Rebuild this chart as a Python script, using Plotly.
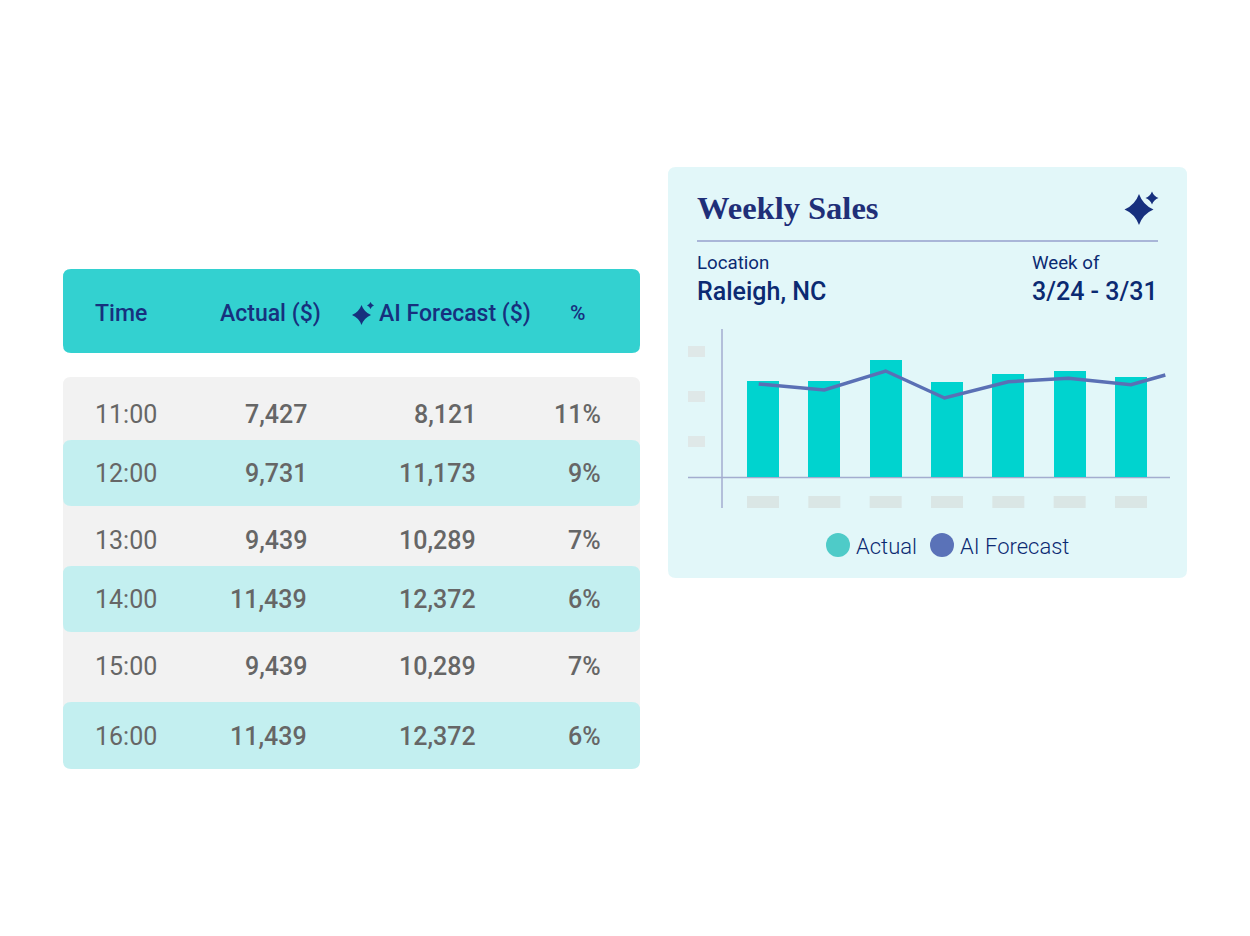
import plotly.graph_objects as go

times = ["11:00", "12:00", "13:00", "14:00", "15:00", "16:00"]
actual_table = ["7,427", "9,731", "9,439", "11,439", "9,439", "11,439"]
forecast_table = ["8,121", "11,173", "10,289", "12,372", "10,289", "12,372"]
pct_table = ["11%", "9%", "7%", "6%", "7%", "6%"]
row_y = [414, 473, 540, 599, 666, 736]

days = [0, 1, 2, 3, 4, 5, 6]
actual_bars = [96.5, 96.5, 116.7, 95.3, 103, 106, 100]
forecast_x = [-0.07, 1.0, 2.0, 2.96, 4.0, 4.98, 6.0, 6.56]
forecast_line = [93, 87, 106, 79, 95.3, 98.7, 92.3, 102]

NAVY = "#17307E"
BLUE = "#0B2A72"
GREY = "#666666"
TEAL_ROW = "#C3EFF0"


def rounded(x0, y0, x1, y1, r):
    return (f"M{x0+r},{y0} L{x1-r},{y0} Q{x1},{y0} {x1},{y0+r} L{x1},{y1-r} Q{x1},{y1} {x1-r},{y1} "
            f"L{x0+r},{y1} Q{x0},{y1} {x0},{y1-r} L{x0},{y0+r} Q{x0},{y0} {x0+r},{y0} Z")


def star(cx, cy, rx, ry):
    k = 0.28
    return (f"M{cx},{cy-ry} Q{cx+rx*k},{cy-ry*k} {cx+rx},{cy} Q{cx+rx*k},{cy+ry*k} {cx},{cy+ry} "
            f"Q{cx-rx*k},{cy+ry*k} {cx-rx},{cy} Q{cx-rx*k},{cy-ry*k} {cx},{cy-ry} Z")


shapes = []
annotations = []


def box(x0, y0, x1, y1, r, color):
    shapes.append(dict(type="path", path=rounded(x0, y0, x1, y1, r), xref="x", yref="y",
                       fillcolor=color, line_width=0, layer="below"))


def rect(x0, y0, x1, y1, color):
    shapes.append(dict(type="rect", x0=x0, y0=y0, x1=x1, y1=y1, xref="x", yref="y",
                       fillcolor=color, line_width=0, layer="below"))


def sparkle(cx, cy, rx, ry):
    shapes.append(dict(type="path", path=star(cx, cy, rx, ry), xref="x", yref="y",
                       fillcolor=NAVY, line_width=0, layer="below"))


def text(x, y, s, size, color, anchor="left", weight=400, family="Roboto"):
    annotations.append(dict(x=x, y=y, xref="x", yref="y", text=s, showarrow=False,
                            xanchor=anchor, yanchor="middle", borderpad=0, borderwidth=0,
                            font=dict(family=family, size=size, color=color, weight=weight)))


# table
box(63, 269, 640, 353, 8, "#33D1D0")
box(63, 377, 640, 760, 8, "#F2F2F2")
box(63, 440, 640, 506, 8, TEAL_ROW)
box(63, 566, 640, 632, 8, TEAL_ROW)
box(63, 702, 640, 769, 8, TEAL_ROW)

text(95, 313, "Time", 23, NAVY, weight=500)
text(220, 313, "Actual ($)", 23, NAVY, weight=500)
text(379, 313, "AI Forecast ($)", 23, NAVY, weight=500)
text(570, 313, "%", 21, NAVY, weight=500)
sparkle(361.5, 315, 9.5, 10)
sparkle(370.5, 305.5, 3.5, 3.5)

for i in range(len(times)):
    text(95, row_y[i], times[i], 25, GREY, weight=400)
    text(307, row_y[i], actual_table[i], 25, GREY, "right", 500)
    text(476, row_y[i], forecast_table[i], 25, GREY, "right", 500)
    text(601, row_y[i], pct_table[i], 25, GREY, "right", 500)

# card
box(668, 167, 1187, 578, 8, "#E2F7F9")
text(697, 208, "Weekly Sales", 32.5, "#1F2F78", weight=700, family="Liberation Serif")
sparkle(1139, 209.5, 14.5, 15.5)
sparkle(1152, 198, 6.5, 6.5)
shapes.append(dict(type="line", x0=697, x1=1158, y0=241, y1=241, xref="x", yref="y",
                   line=dict(color="#A9B6D8", width=2), layer="below"))
text(697, 263, "Location", 18.7, BLUE)
text(697, 291, "Raleigh, NC", 25, BLUE, weight=500)
text(1032, 263, "Week of", 18.7, BLUE)
text(1032, 291, "3/24 - 3/31", 25, BLUE, weight=500)

# chart placeholders and axes
for y in [346, 391, 436]:
    rect(688, y, 705, y + 11, "#DFE8E8")
for x in days:
    c = 763 + x * 61.33
    rect(c - 16, 496, c + 16, 508, "#DAE6E5")
shapes.append(dict(type="line", x0=722, x1=722, y0=329, y1=508, xref="x", yref="y",
                   line=dict(color="#A3ADCF", width=1.5), layer="below"))
shapes.append(dict(type="line", x0=688, x1=1170, y0=477.5, y1=477.5, xref="x", yref="y",
                   line=dict(color="#A3ADCF", width=1.5), layer="below"))

# legend
text(856, 546, "Actual", 22, "#0B2A72", weight=300)
text(960, 546, "AI Forecast", 22, "#0B2A72", weight=300)

fig = go.Figure()
fig.add_trace(go.Scatter(x=[838, 942], y=[545, 545], mode="markers", xaxis="x", yaxis="y",
                         marker=dict(size=24, color=["#4ECBC8", "#5A72B8"]), showlegend=False))
fig.add_trace(go.Bar(x=days, y=actual_bars, width=32 / 61.33, marker=dict(color="#00D3CF", line_width=0),
                     xaxis="x2", yaxis="y2", showlegend=False))
fig.add_trace(go.Scatter(x=forecast_x, y=forecast_line, mode="lines", line=dict(color="#5A70B5", width=3.5),
                         xaxis="x2", yaxis="y2", showlegend=False))

W, H = 1250, 936
fig.update_layout(
    width=W, height=H, margin=dict(l=0, r=0, t=0, b=0), paper_bgcolor="white", plot_bgcolor="rgba(0,0,0,0)",
    bargap=0, shapes=shapes, annotations=annotations,
    # page axes are in pixels, the chart axes sit on top of the card
    xaxis=dict(domain=[0, 1], range=[0, W], visible=False, anchor="y"),
    yaxis=dict(domain=[0, 1], range=[H, 0], visible=False, anchor="x"),
    xaxis2=dict(domain=[688 / W, 1170 / W], range=[(688 - 763) / 61.33, (1170 - 763) / 61.33],
                visible=False, anchor="y2"),
    yaxis2=dict(domain=[1 - 477 / H, 1 - 329 / H], range=[0, 148], visible=False, anchor="x2"),
)
fig.write_html("out.html", config={"displayModeBar": False},
               post_script="document.body.style.margin='0';")
